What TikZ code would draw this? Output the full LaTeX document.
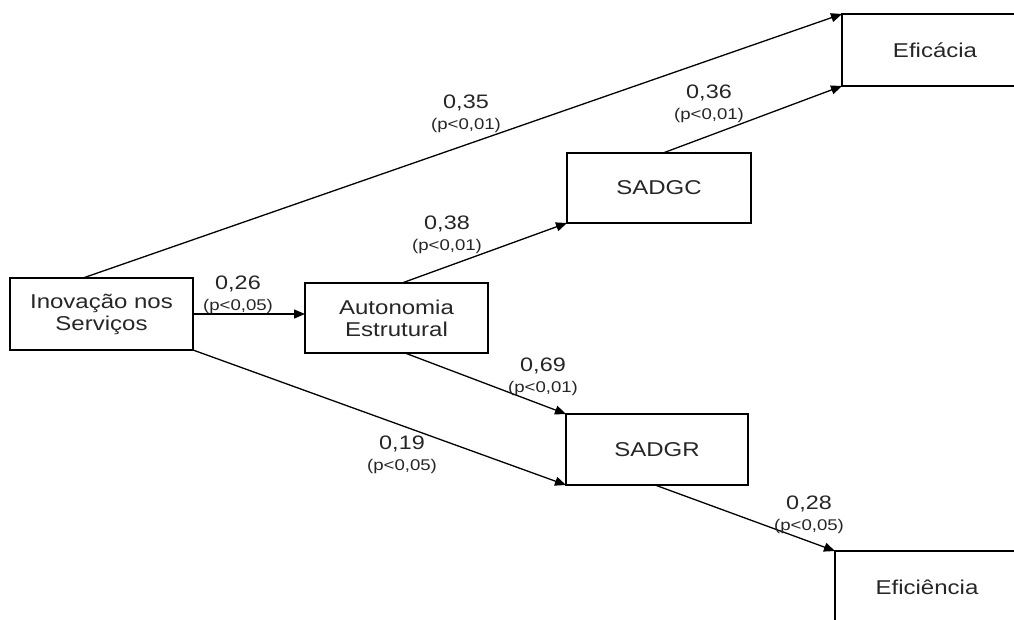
\documentclass[tikz,border=0pt]{standalone}
\usepackage{fontspec}
\setmainfont{Liberation Sans}[FakeStretch=1.2]
\usetikzlibrary{arrows.meta,calc}
\begin{document}
\begin{tikzpicture}[x=1pt,y=-1pt,
  box/.style={draw=black,line width=2.6pt,rectangle,inner sep=0pt,outer sep=0pt,align=center,text=black!85,font=\fontsize{20}{22}\selectfont},
  conn/.style={line width=1.3pt,-{Triangle[length=11pt,width=9pt]}},
  coef/.style={anchor=north,inner sep=0pt,align=center,text=black!85,font=\fontsize{19.5}{21}\selectfont}]
\useasboundingbox (0,0) rectangle (1014,619);
\clip (0,0) rectangle (1014,619);
\newcommand{\pval}[1]{{\fontsize{15.5}{21}\selectfont (p<#1)}}
% boxes
\node[box,minimum width=183pt,minimum height=72pt] (inov) at (101.5,314) {Inovação nos\\Serviços};
\node[box,minimum width=183pt,minimum height=70pt] (auto) at (396.5,318) {Autonomia\\Estrutural};
\node[box,minimum width=184pt,minimum height=70pt] (sadgc) at (659,188) {SADGC};
\node[box,minimum width=182pt,minimum height=71pt] (sadgr) at (657,449.5) {SADGR};
\node[box,minimum width=186pt,minimum height=72pt] (efic) at (935,50) {Eficácia};
\node[box,minimum width=184pt,minimum height=72pt] (efin) at (927,587) {Eficiência};
% connectors
\draw[conn] ([xshift=-18.5pt]inov.north) -- (efic.north west);
\draw[conn] ([xshift=4pt]sadgc.north) -- (efic.south west);
\draw[conn] (inov.east) -- (inov.east -| auto.west);
\draw[conn] ([xshift=5.5pt]auto.north) -- (sadgc.south west);
\draw[conn] ([xshift=8.5pt]auto.south) -- (sadgr.north west);
\draw[conn] (inov.south east) -- (sadgr.south west);
\draw[conn] ([xshift=-2pt]sadgr.south) -- (efin.north west);
% coefficients
\node[coef] (c35) at (466,95) {0,35\\\pval{0,01}};
\node[coef] (c36) at (709,85) {0,36\\\pval{0,01}};
\node[coef] (c26) at (238,276) {0,26\\\pval{0,05}};
\node[coef] (c38) at (447,216) {0,38\\\pval{0,01}};
\node[coef] (c69) at (543,358) {0,69\\\pval{0,01}};
\node[coef] (c19) at (402,436) {0,19\\\pval{0,05}};
\node[coef] (c28) at (809,496) {0,28\\\pval{0,05}};
\end{tikzpicture}
\end{document}
